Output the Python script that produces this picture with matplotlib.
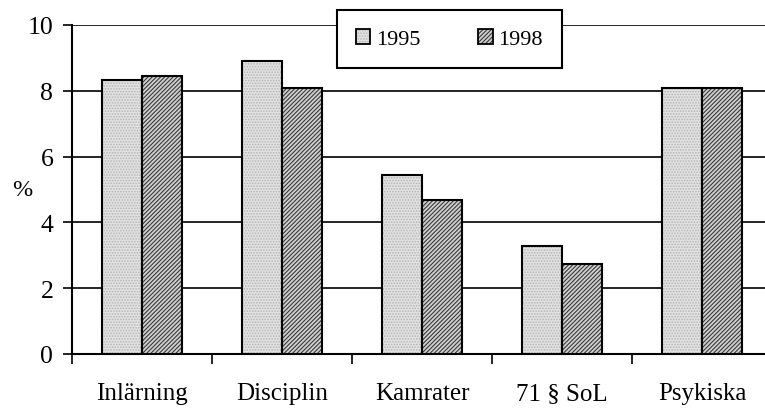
import matplotlib
matplotlib.use("Agg")
import matplotlib.pyplot as plt
import matplotlib.patches as mpatches
from matplotlib.legend_handler import HandlerBase
import numpy as np

categories = ["Inlärning", "Disciplin", "Kamrater", "71 § SoL", "Psykiska"]
v1995 = [8.33, 8.9, 5.43, 3.29, 8.1]
v1998 = [8.45, 8.1, 4.68, 2.73, 8.1]
yticks = [0, 2, 4, 6, 8, 10]

plt.rcParams['font.family'] = ['Liberation Serif', 'DejaVu Serif']
plt.rcParams['hatch.linewidth'] = 0.8

fig = plt.figure(figsize=(7.65, 4.1), dpi=100)
ax = fig.add_axes([72/765, 55/410, 700/765, 329/410])

x = np.arange(len(categories))
w = 0.285
style95 = dict(facecolor='#e2e2e2', edgecolor='#b5b5b5', hatch='......', linewidth=0)
style98 = dict(facecolor='#d0d0d0', edgecolor='#3a3a3a', hatch='////////', linewidth=0)
ax.bar(x - w/2, v1995, w, zorder=3, **style95)
ax.bar(x + w/2, v1998, w, zorder=3, **style98)
ax.bar(x - w/2, v1995, w, facecolor='none', edgecolor='black', linewidth=1.5, zorder=4)
ax.bar(x + w/2, v1998, w, facecolor='none', edgecolor='black', linewidth=1.5, zorder=4)

ax.set_xlim(-0.5, len(categories) - 0.5)
ax.set_ylim(0, 10)
ax.set_yticks(yticks)
ax.set_yticklabels([str(t) for t in yticks], fontsize=18.5)
ax.yaxis.grid(True, color='black', linewidth=1.2, zorder=0)
ax.set_axisbelow(True)

ax.set_xticks(x)
ax.set_xticklabels(categories, fontsize=18)
ax.tick_params(axis='x', which='major', length=0, pad=20)
ax.set_xticks(np.arange(-0.5, len(categories), 1.0), minor=True)
ax.tick_params(axis='x', which='minor', length=7.5, width=1.2, direction='out')
ax.tick_params(axis='y', length=6.5, width=1.2, pad=7)

for s in ['top', 'right']:
    ax.spines[s].set_visible(False)
ax.spines['left'].set_linewidth(1.5)
ax.spines['bottom'].set_linewidth(1.5)

fig.text(22.5/765, 1 - 191/410, '%', fontsize=17.5, ha='center', va='center')

h95 = mpatches.Patch(**style95)
h98 = mpatches.Patch(**style98)

class HandlerBoxed(HandlerBase):
    def create_artists(self, legend, orig, xd, yd, width, height, fontsize, trans):
        p1 = mpatches.Rectangle((-xd, -yd), width, height, facecolor=orig.get_facecolor(),
                                edgecolor=orig.get_edgecolor(), hatch=orig.get_hatch(),
                                linewidth=0, transform=trans)
        p2 = mpatches.Rectangle((-xd, -yd), width, height, facecolor='none',
                                edgecolor='black', linewidth=1.3, transform=trans)
        return [p1, p2]

leg = ax.legend([h95, h98], ['1995', '1998'], loc='upper center',
                bbox_to_anchor=(0.539, 1.045), ncol=2, fontsize=16,
                frameon=True, fancybox=False, edgecolor='black', framealpha=1,
                handlelength=0.65, handleheight=0.65, columnspacing=2.6, handletextpad=0.25,
                borderpad=0.85, borderaxespad=0,
                handler_map={mpatches.Patch: HandlerBoxed()})
leg.get_frame().set_linewidth(1.5)
leg.set_zorder(5)

fig.savefig('out.png', dpi=100)
